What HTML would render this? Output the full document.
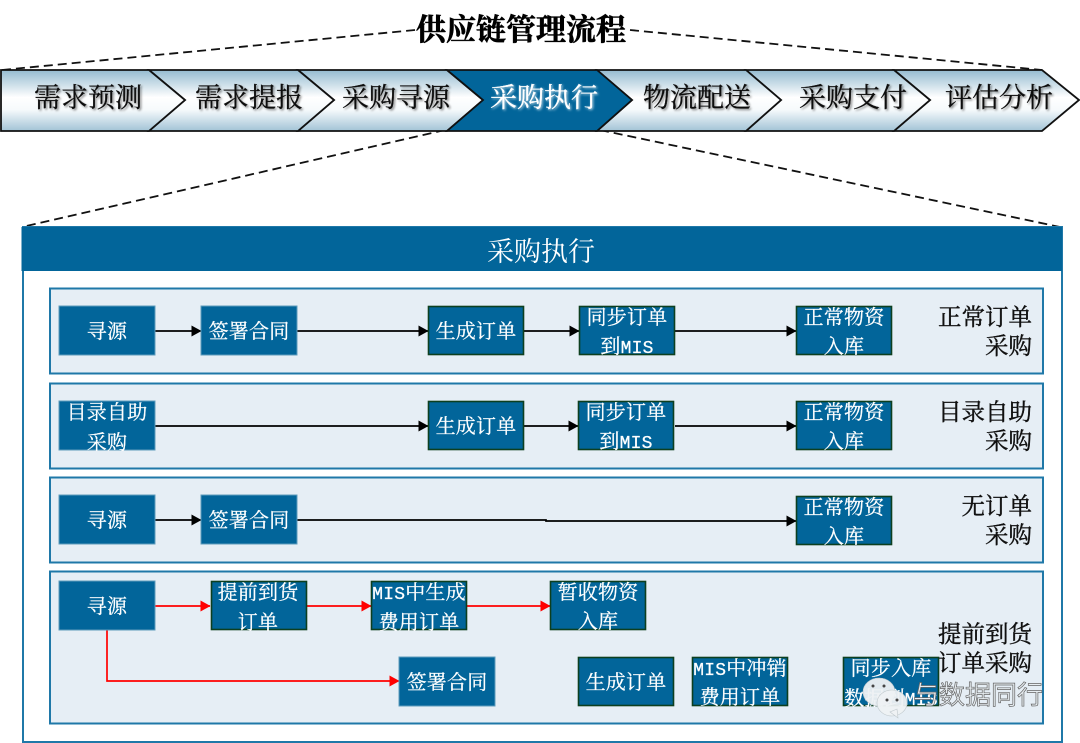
<!DOCTYPE html>
<html><head><meta charset="utf-8"><style>
html,body{margin:0;padding:0;background:#fff}
svg{display:block}
text{font-family:"Liberation Serif","Noto Serif CJK SC",serif}
.w{fill:#fff;stroke:#fff;stroke-width:.25;font-size:20px;text-anchor:middle;letter-spacing:.2px}
.k{fill:#111;stroke:#111;stroke-width:.4;font-size:23.500px;text-anchor:end}
.c{fill:#111;stroke:#111;stroke-width:.3;font-size:27px;text-anchor:middle;filter:url(#sh)}
.m{font-family:"Liberation Mono","Noto Serif CJK SC",monospace}
.p{fill:#e6eef5;stroke:#1f78a8;stroke-width:2}
.b{fill:#02659a;stroke:#5f9cbc;stroke-width:1}
.g{fill:#02659a;stroke:#0d3f1f;stroke-width:1.6}
.l{stroke:#000;stroke-width:1.7;fill:none}
.r{stroke:#f00;stroke-width:1.7;fill:none}
.d{stroke:#111;stroke-width:1.8;stroke-dasharray:9 5;fill:none}
</style></head><body>
<svg width="1080" height="743" viewBox="0 0 1080 743" xmlns="http://www.w3.org/2000/svg">
<defs>
<linearGradient id="gr" x1="0" y1="0" x2="0" y2="1"><stop offset="0" stop-color="#94bbd0"/><stop offset=".45" stop-color="#ffffff"/><stop offset=".65" stop-color="#f6fafc"/><stop offset="1" stop-color="#a2c3d6"/></linearGradient>
<filter id="sh" x="-10%" y="-10%" width="125%" height="130%"><feDropShadow dx="1.5" dy="1.5" stdDeviation="1" flood-color="#000" flood-opacity=".45"/></filter>
<filter id="wg" x="-10%" y="-20%" width="120%" height="140%"><feDropShadow dx="1" dy="1" stdDeviation="1.2" flood-color="#cfe3ee" flood-opacity=".9"/></filter>
<marker id="ka" markerWidth="10" markerHeight="11" refX="9.500" refY="5.500" orient="auto" markerUnits="userSpaceOnUse"><path d="M0 0L10 5.500L0 11Z" fill="#000"/></marker>
<marker id="ra" markerWidth="10" markerHeight="11" refX="9.500" refY="5.500" orient="auto" markerUnits="userSpaceOnUse"><path d="M0 0L10 5.500L0 11Z" fill="#f00"/></marker>
</defs>

<path class="d" d="M2 70L415 30M630 30L1042 70M445 130L22 227M600 130L1060 227"/>
<text x="521" y="40" text-anchor="middle" font-size="30" font-weight="700" fill="#000" stroke="#000" stroke-width=".6">供应链管理流程</text>

<g stroke="#111" stroke-width="1.8" fill="url(#gr)">
<path d="M894 70H1042L1079 100L1042 131H894L930 100Z"/>
<path d="M746 70H894L930 100L894 131H746L781 100Z"/>
<path d="M597 70H746L781 100L746 131H597L632 100Z"/>
<path d="M298 70H447L483 100L447 131H298L334 100Z"/>
<path d="M149 70H298L334 100L298 131H149L185 100Z"/>
<path d="M1 70H149L185 100L149 131H1Z"/>
<path d="M447 70H597L632 100L597 131H447L483 100Z" fill="#02659a"/>
</g>
<text class="c" x="88" y="107">需求预测</text>
<text class="c" x="249" y="107">需求提报</text>
<text class="c" x="396" y="107">采购寻源</text>
<text class="c" x="544" y="107" style="fill:#fff;stroke:#fff;filter:url(#wg)">采购执行</text>
<text class="c" x="697" y="107">物流配送</text>
<text class="c" x="853" y="107">采购支付</text>
<text class="c" x="999" y="107">评估分析</text>

<rect x="23" y="227" width="1039" height="515" fill="#fff" stroke="#1f78a8" stroke-width="2"/>
<rect x="21.500" y="227" width="1040.500" height="44" fill="#02659a"/>
<text x="541" y="261" text-anchor="middle" font-size="27" fill="#fff">采购执行</text>

<rect class="p" x="50" y="288.500" width="993" height="85"/>
<rect class="p" x="50" y="383.500" width="993" height="85"/>
<rect class="p" x="50" y="477.500" width="993" height="85"/>
<rect class="p" x="50" y="571.500" width="993" height="152"/>

<!-- connectors -->
<path class="l" marker-end="url(#ka)" d="M155 331H201"/>
<path class="l" marker-end="url(#ka)" d="M297 331H428"/>
<path class="l" marker-end="url(#ka)" d="M524 331H579"/>
<path class="l" marker-end="url(#ka)" d="M675 331H796"/>
<path class="l" marker-end="url(#ka)" d="M155 426H428"/>
<path class="l" marker-end="url(#ka)" d="M524 426H578"/>
<path class="l" marker-end="url(#ka)" d="M675 426H796"/>
<path class="l" marker-end="url(#ka)" d="M155 520H201"/>
<path class="l" marker-end="url(#ka)" d="M297 520H546V521H796"/>
<path class="r" marker-end="url(#ra)" d="M155 606H210"/>
<path class="r" marker-end="url(#ra)" d="M306 606H371"/>
<path class="r" marker-end="url(#ra)" d="M467 606H550"/>
<path class="r" marker-end="url(#ra)" d="M107 630V681H399"/>

<!-- row 1 -->
<rect class="b" x="59" y="306" width="96" height="49"/><text class="w" x="107" y="338">寻源</text>
<rect class="b" x="201" y="306" width="96" height="49"/><text class="w" x="249" y="338">签署合同</text>
<rect class="g" x="428.500" y="306.500" width="95" height="48"/><text class="w" x="476" y="338">生成订单</text>
<rect class="g" x="579.500" y="306.500" width="95" height="48"/><text class="w" x="627" y="324">同步订单</text><text class="w" x="627" y="353">到<tspan class="m" font-size="18">MIS</tspan></text>
<rect class="g" x="796.500" y="306.500" width="95" height="48"/><text class="w" x="844" y="324">正常物资</text><text class="w" x="844" y="353">入库</text>
<text class="k" x="1032" y="325">正常订单</text><text class="k" x="1032" y="354">采购</text>

<!-- row 2 -->
<rect class="b" x="59" y="401" width="96" height="49"/><text class="w" x="107" y="419">目录自助</text><text class="w" x="107" y="449">采购</text>
<rect class="g" x="428.500" y="401.500" width="95" height="48"/><text class="w" x="476" y="433">生成订单</text>
<rect class="g" x="578.500" y="401.500" width="95" height="48"/><text class="w" x="626" y="419">同步订单</text><text class="w" x="626" y="448">到<tspan class="m" font-size="18">MIS</tspan></text>
<rect class="g" x="796.500" y="401.500" width="95" height="48"/><text class="w" x="844" y="419">正常物资</text><text class="w" x="844" y="448">入库</text>
<text class="k" x="1032" y="420">目录自助</text><text class="k" x="1032" y="449">采购</text>

<!-- row 3 -->
<rect class="b" x="59" y="495" width="96" height="49"/><text class="w" x="107" y="527">寻源</text>
<rect class="b" x="201" y="495" width="96" height="49"/><text class="w" x="249" y="527">签署合同</text>
<rect class="g" x="796.500" y="496.500" width="95" height="48"/><text class="w" x="844" y="514">正常物资</text><text class="w" x="844" y="543">入库</text>
<text class="k" x="1032" y="514">无订单</text><text class="k" x="1032" y="543">采购</text>

<!-- row 4 -->
<rect class="b" x="59" y="581" width="96" height="49"/><text class="w" x="107" y="613">寻源</text>
<rect class="g" x="211.500" y="581.500" width="95" height="48"/><text class="w" x="258" y="599">提前到货</text><text class="w" x="258" y="629">订单</text>
<rect class="g" x="371.500" y="581.500" width="95" height="48"/><text class="w" x="419" y="599"><tspan class="m" font-size="18">MIS</tspan>中生成</text><text class="w" x="419" y="629">费用订单</text>
<rect class="g" x="550.500" y="581.500" width="95" height="48"/><text class="w" x="598" y="599">暂收物资</text><text class="w" x="598" y="628">入库</text>
<rect class="b" x="399" y="657" width="96" height="49"/><text class="w" x="447" y="689">签署合同</text>
<rect class="g" x="578.500" y="657.500" width="95" height="48"/><text class="w" x="626" y="689">生成订单</text>
<rect class="g" x="692.500" y="657.500" width="95" height="48"/><text class="w" x="740" y="675"><tspan class="m" font-size="18">MIS</tspan>中冲销</text><text class="w" x="740" y="704">费用订单</text>
<rect class="g" x="843.500" y="657.500" width="95" height="48"/><text class="w" x="891" y="675">同步入库</text><text class="w" x="891" y="705">数据到<tspan class="m" font-size="18">MIS</tspan></text>
<text class="k" x="1032" y="642">提前到货</text><text class="k" x="1032" y="671">订单采购</text>

<!-- watermark -->
<g fill="#eef1f3" fill-opacity=".95" stroke="#bfc8cc" stroke-width=".6">
<ellipse cx="879" cy="692" rx="16" ry="14"/>
<ellipse cx="892" cy="703" rx="15" ry="13"/>
<path d="M890 712L898 718L897 709Z"/>
</g>
<g fill="#444"><circle cx="873" cy="686" r="1.500"/><circle cx="884" cy="686" r="1.500"/><circle cx="887" cy="700" r="1.500"/><circle cx="897" cy="700" r="1.500"/></g>
<text x="913" y="704" font-size="26" fill="#e8eef2" stroke="#666" stroke-width=".7" style="font-family:'Liberation Sans','Noto Sans CJK SC',sans-serif">与数据同行</text>
</svg>
</body></html>
